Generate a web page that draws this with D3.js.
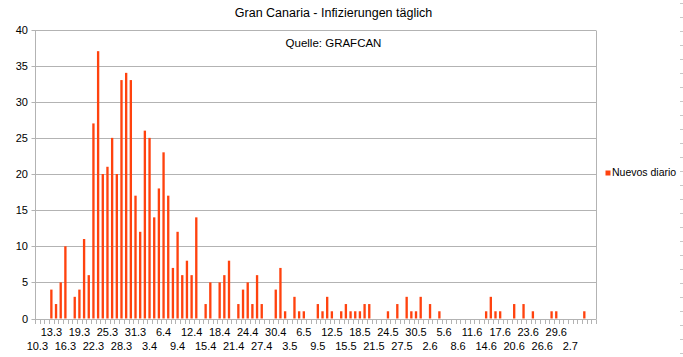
<!DOCTYPE html>
<html>
<head>
<meta charset="utf-8">
<script src="https://cdn.jsdelivr.net/npm/d3@7"></script>
<style>
  html, body { margin: 0; padding: 0; background: #fff; }
  svg { display: block; font-family: "Liberation Sans", Arial, sans-serif; }
</style>
</head>
<body>
<svg id="chart" width="683" height="357"></svg>
<script>
// ---- data ----
const dates = [
  "10.3","11.3","12.3","13.3","14.3","15.3","16.3","17.3","18.3","19.3","20.3","21.3","22.3","23.3","24.3","25.3","26.3","27.3","28.3","29.3","30.3","31.3",
  "1.4","2.4","3.4","4.4","5.4","6.4","7.4","8.4","9.4","10.4","11.4","12.4","13.4","14.4","15.4","16.4","17.4","18.4","19.4","20.4","21.4","22.4","23.4","24.4","25.4","26.4","27.4","28.4","29.4","30.4",
  "1.5","2.5","3.5","4.5","5.5","6.5","7.5","8.5","9.5","10.5","11.5","12.5","13.5","14.5","15.5","16.5","17.5","18.5","19.5","20.5","21.5","22.5","23.5","24.5","25.5","26.5","27.5","28.5","29.5","30.5","31.5",
  "1.6","2.6","3.6","4.6","5.6","6.6","7.6","8.6","9.6","10.6","11.6","12.6","13.6","14.6","15.6","16.6","17.6","18.6","19.6","20.6","21.6","22.6","23.6","24.6","25.6","26.6","27.6","28.6","29.6","30.6",
  "1.7","2.7","3.7","4.7","5.7","6.7","7.7"
];
const nuevosDiario = [
  0,0,0,4,2,5,10,0,3,4,11,6,27,37,20,21,25,20,33,34,33,17,
  12,26,25,14,18,23,17,7,12,6,8,6,14,0,2,5,0,5,6,8,0,2,4,5,2,6,2,0,0,4,
  7,1,0,3,1,1,0,0,2,1,3,1,0,1,2,1,1,1,2,2,0,0,0,1,0,2,0,3,1,1,3,
  0,2,0,1,0,0,0,0,0,0,0,0,0,1,3,1,1,0,0,2,0,2,0,1,0,0,0,1,1,0,
  0,0,0,0,1,0,0
];
const tickLabelsUpper = ["13.3","19.3","25.3","31.3","6.4","12.4","18.4","24.4","30.4","6.5","12.5","18.5","24.5","30.5","5.6","11.6","17.6","23.6","29.6"];
const tickLabelsLower = ["10.3","16.3","22.3","28.3","3.4","9.4","15.4","21.4","27.4","3.5","9.5","15.5","21.5","27.5","2.6","8.6","14.6","20.6","26.6","2.7"];
const yTicks = [0,5,10,15,20,25,30,35,40];
const seriesName = "Nuevos diario";
const titleText = "Gran Canaria - Infizierungen täglich";
const subtitleText = "Quelle: GRAFCAN";

// ---- layout ----
const svg = d3.select("#chart");
const plotLeft = 35, plotRight = 596, plotTop = 29.5, plotBottom = 318.5;
const barColor = "#ff420e";
const gridColor = "#b3b3b3";

const x = d3.scaleBand().domain(dates).range([plotLeft, plotRight]).paddingInner(0.5).paddingOuter(0.25);
const y = d3.scaleLinear().domain([0, 40]).range([plotBottom, plotTop]);
const step = x.step();

svg.append("rect").attr("width", 683).attr("height", 357).attr("fill", "#fff");

// gridlines
svg.append("g").selectAll("line").data(yTicks).join("line")
  .attr("x1", plotLeft - 3.5).attr("x2", plotRight)
  .attr("y1", d => Math.round(y(d)) + 0.5).attr("y2", d => Math.round(y(d)) + 0.5)
  .attr("stroke", gridColor).attr("stroke-width", 1);

// left axis
svg.append("line").attr("x1", plotLeft + 0.5).attr("x2", plotLeft + 0.5)
  .attr("y1", Math.round(y(40)) + 0.5).attr("y2", Math.round(y(0)) + 0.5)
  .attr("stroke", gridColor);
// right border
svg.append("line").attr("x1", plotRight + 0.5).attr("x2", plotRight + 0.5)
  .attr("y1", Math.round(y(40)) + 0.5).attr("y2", Math.round(y(0)) + 0.5)
  .attr("stroke", gridColor);

// y labels
svg.append("g").selectAll("text").data(yTicks).join("text")
  .attr("x", 28).attr("y", d => y(d) + 4)
  .attr("text-anchor", "end").attr("font-size", 11).attr("fill", "#000")
  .text(d => d);

// x ticks at category boundaries
const boundaries = d3.range(dates.length + 1);
svg.append("g").selectAll("line").data(boundaries).join("line")
  .attr("x1", i => Math.round(plotLeft + i * step) + 0.5).attr("x2", i => Math.round(plotLeft + i * step) + 0.5)
  .attr("y1", Math.round(y(0)) + 0.5).attr("y2", Math.round(y(0)) + 5)
  .attr("stroke", gridColor);

// bars
svg.append("g").selectAll("rect").data(dates.map((d, i) => ({d, v: nuevosDiario[i]})).filter(o => o.v > 0)).join("rect")
  .attr("x", o => x(o.d)).attr("width", x.bandwidth())
  .attr("y", o => y(o.v)).attr("height", o => y(0) - y(o.v))
  .attr("fill", barColor);

// x labels
const cx = d => x(d) + x.bandwidth() / 2;
svg.append("g").selectAll("text").data(tickLabelsUpper).join("text")
  .attr("x", cx).attr("y", 336).attr("text-anchor", "middle")
  .attr("font-size", 11).attr("fill", "#000").text(d => d);
svg.append("g").selectAll("text").data(tickLabelsLower).join("text")
  .attr("x", cx).attr("y", 349.5).attr("text-anchor", "middle")
  .attr("font-size", 11).attr("fill", "#000").text(d => d);

// title and subtitle
svg.append("text").attr("x", 333.5).attr("y", 16.5).attr("text-anchor", "middle")
  .attr("font-size", 12.5).attr("fill", "#000").text(titleText);
svg.append("text").attr("x", 333.5).attr("y", 46.5).attr("text-anchor", "middle")
  .attr("font-size", 11.5).attr("fill", "#000").text(subtitleText);

// legend
svg.append("rect").attr("x", 605.5).attr("y", 170.5).attr("width", 5).attr("height", 5).attr("fill", barColor);
svg.append("text").attr("x", 612).attr("y", 175.5).attr("font-size", 10.5).attr("fill", "#000").text(seriesName);

// dashed edge at right
svg.append("g").selectAll("line").data(d3.range(26)).join("line")
  .attr("x1", 680).attr("x2", 683)
  .attr("y1", i => 3.5 + i * 14).attr("y2", i => 3.5 + i * 14)
  .attr("stroke", "#c8c8c8");
</script>
</body>
</html>
